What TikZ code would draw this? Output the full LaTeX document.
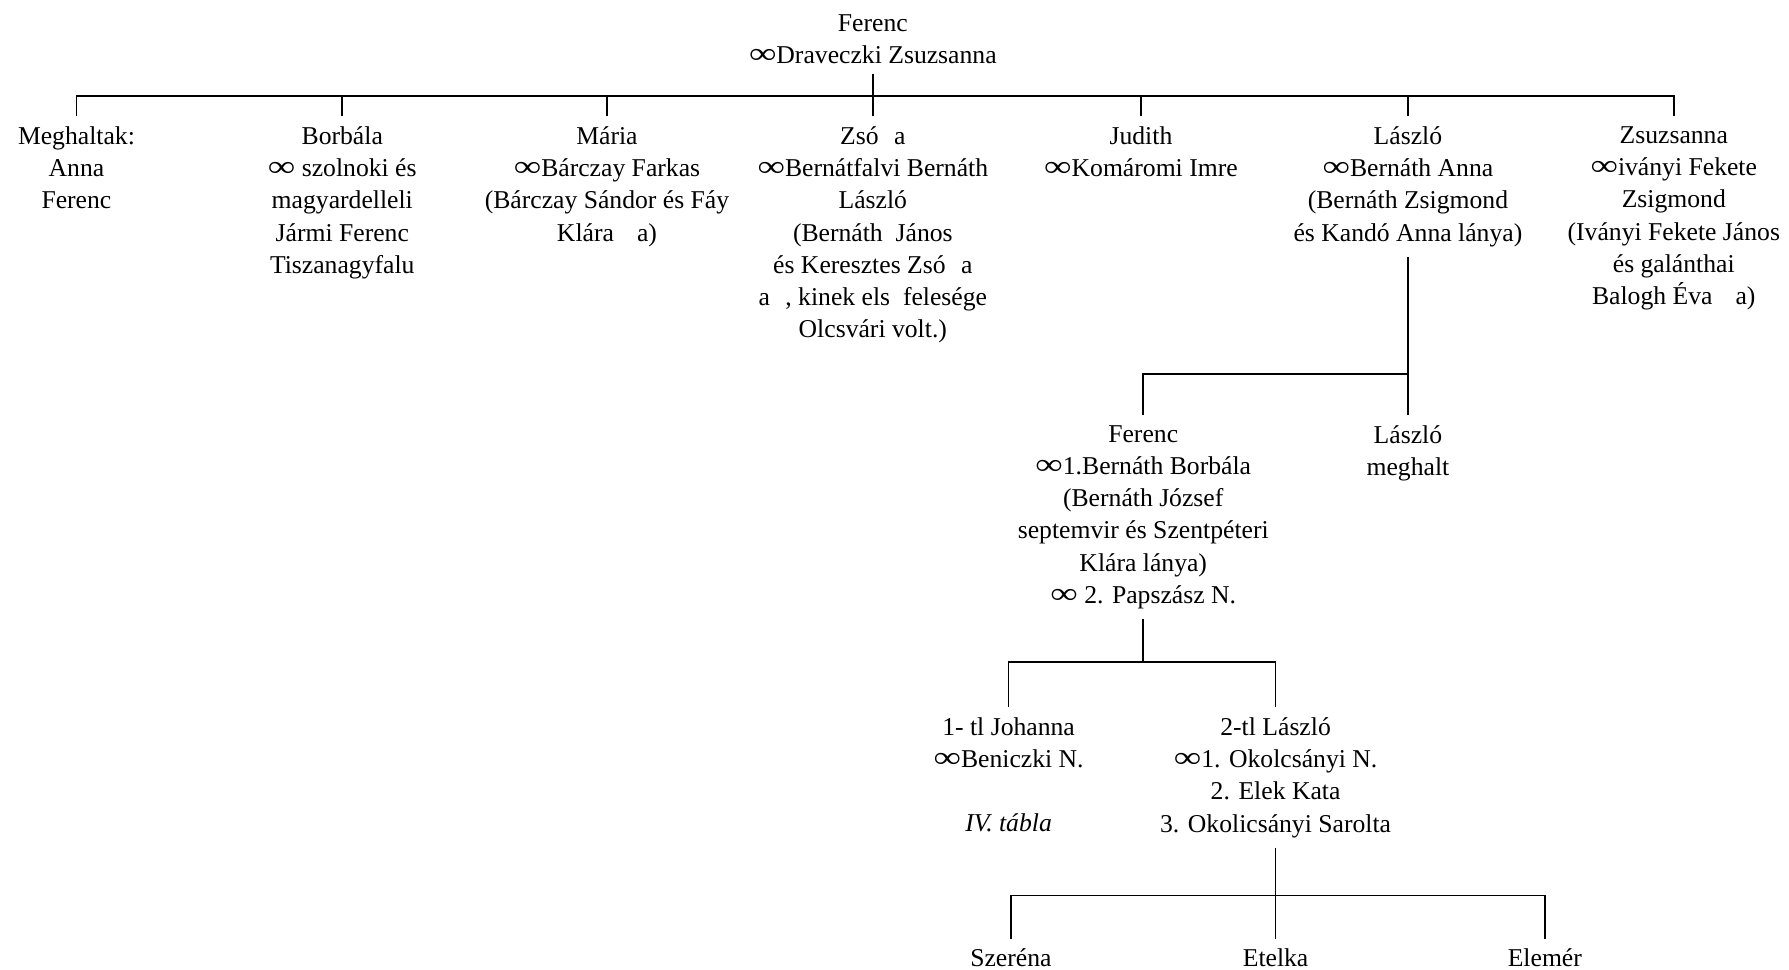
\documentclass[tikz,border=0pt]{standalone}
\usepackage{fontspec}
\setmainfont{Liberation Serif}
\newcommand{\hz}{\scalebox{1.5}[1.15]{∞}}

\begin{document}
\begin{tikzpicture}[x=2cm, y=2cm, line width=.8pt,
        every node/.style={align=center, inner sep=0pt, outer sep=5pt, font=\fontsize{12.8}{16.1}\selectfont}]
    \useasboundingbox (0,0) rectangle (15.68,-8.5);
    % szulok
    \node[anchor=south] (top) at (7.65,-0.65) {Ferenc\\\hz Draveczki Zsuzsanna};
    % gyerekek
    \node[anchor=north] (meg) at (0.67,-1.02) {Meghaltak:\\Anna\\Ferenc};
    \node[anchor=north] (bor) at (3.00,-1.02) {Borbála\\\hz\ szolnoki és\\magyardelleli\\Jármi Ferenc\\Tiszanagyfalu};
    \node[anchor=north] (mar) at (5.32,-1.02) {Mária\\\hz Bárczay Farkas\\(Bárczay Sándor és Fáy\\Klára\hspace{0.9em}a)};
    \node[anchor=north] (zso) at (7.65,-1.02) {Zsó\hspace{0.6em}a\\\hz Bernátfalvi Bernáth\\László\\(Bernáth\hspace{0.5em}János\\és Keresztes Zsó\hspace{0.6em}a\\a\hspace{0.6em}, kinek els\hspace{0.5em}felesége\\Olcsvári volt.)};
    \node[anchor=north] (jud) at (10.00,-1.02) {Judith\\\hz Komáromi Imre};
    \node[anchor=north] (las) at (12.34,-1.02) {László\\\hz Bernáth Anna\\(Bernáth Zsigmond\\és Kandó Anna lánya)};
    \node[anchor=north] (zsu) at (14.67,-1.02) {Zsuzsanna\\\hz iványi Fekete\\Zsigmond\\(Iványi Fekete János\\és galánthai\\Balogh Éva\hspace{0.9em}a)};
    % unokak
    \node[anchor=north] (fer) at (10.02,-3.64) {Ferenc\\\hz 1.Bernáth Borbála\\(Bernáth József\\septemvir és Szentpéteri\\Klára lánya)\\\hz\ 2. Papszász N.};
    \node[anchor=north] (las2) at (12.34,-3.64) {László\\meghalt};
    % dedunokak
    \node[anchor=north] (joh) at (8.84,-6.20) {1- tl Johanna\\\hz Beniczki N.\\[16pt]\textit{IV. tábla}};
    \node[anchor=north] (las3) at (11.18,-6.20) {2-tl László\\\hz 1. Okolcsányi N.\\2. Elek Kata\\3. Okolicsányi Sarolta};
    % ukak
    \node[anchor=north] (sze) at (8.86,-8.23) {Szeréna};
    \node[anchor=north] (ete) at (11.18,-8.23) {Etelka};
    \node[anchor=north] (ele) at (13.54,-8.23) {Elemér};

    % vonalak
    \coordinate (b1) at (0,-0.84);
    \coordinate (b2) at (0,-3.28);
    \coordinate (b3) at (0,-5.80);
    \coordinate (b4) at (0,-7.85);
    \draw (top.south) -- (top.south |- b1);
    \draw (meg.north) -- (meg.north |- b1) -- (zsu.north |- b1) -- (zsu.north);
    \foreach \n in {bor,mar,zso,jud,las}
        \draw (\n.north) -- (\n.north |- b1);

    \draw (las.south) -- (las.south |- b2);
    \draw (fer.north) -- (fer.north |- b2) -- (las2.north |- b2) -- (las2.north);

    \draw (fer.south) -- (fer.south |- b3);
    \draw (joh.north) -- (joh.north |- b3) -- (las3.north |- b3) -- (las3.north);

    \draw (las3.south) -- (las3.south |- b4);
    \draw (sze.north) -- (sze.north |- b4) -- (ele.north |- b4) -- (ele.north);
    \draw (ete.north) -- (ete.north |- b4);
\end{tikzpicture}
\end{document}
